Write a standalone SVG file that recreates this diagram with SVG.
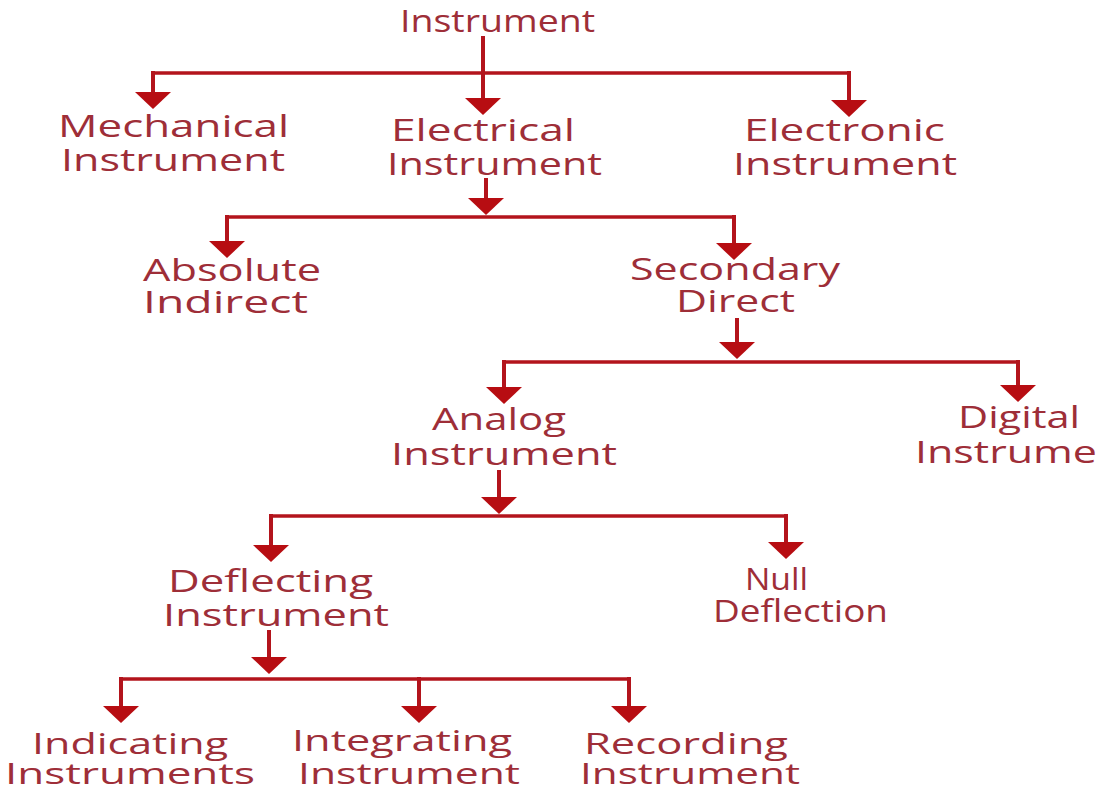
<svg xmlns="http://www.w3.org/2000/svg" xmlns:xlink="http://www.w3.org/1999/xlink" width="1097" height="788" viewBox="0 0 1097 788">
<style>
.t{font-family:"Open Sans","Liberation Sans",sans-serif;font-size:31px;fill:#9e2e38}
.b{font-size:29px}
.ln{stroke:#b3141c;stroke-width:4;fill:none}
.hz{stroke:#b3141c;stroke-width:3.5;fill:none}
.ah{fill:#b70d12}
</style>
<defs>
<path id="ah" class="ah" d="M-18,0 L18,0 L0,17 Z"/>
</defs>
<rect width="1097" height="788" fill="#ffffff"/>
<g id="connectors">
<path class="ln" d="M483,36 V100"/>
<path class="hz" d="M153,73 H849"/>
<path class="ln" d="M153,71 V93 M849,71 V101"/>
<use xlink:href="#ah" x="483" y="98"/>
<use xlink:href="#ah" x="153" y="92"/>
<use xlink:href="#ah" x="849" y="100"/>

<path class="ln" d="M486,178 V200"/>
<path class="hz" d="M227,217 H734"/>
<path class="ln" d="M227,215 V242 M734,215 V244"/>
<use xlink:href="#ah" x="486" y="198"/>
<use xlink:href="#ah" x="227" y="241"/>
<use xlink:href="#ah" x="734" y="243"/>

<path class="ln" d="M737,318 V343"/>
<path class="hz" d="M504,362 H1018"/>
<path class="ln" d="M504,360 V388 M1018,360 V386"/>
<use xlink:href="#ah" x="737" y="342"/>
<use xlink:href="#ah" x="504" y="387"/>
<use xlink:href="#ah" x="1018" y="385"/>

<path class="ln" d="M499,470 V498"/>
<path class="hz" d="M271,516 H786"/>
<path class="ln" d="M271,514 V546 M786,514 V543"/>
<use xlink:href="#ah" x="499" y="497"/>
<use xlink:href="#ah" x="271" y="545"/>
<use xlink:href="#ah" x="786" y="542"/>

<path class="ln" d="M269,630 V658"/>
<path class="hz" d="M121,679 H629"/>
<path class="ln" d="M121,677 V707 M419,677 V707 M629,677 V707"/>
<use xlink:href="#ah" x="269" y="657"/>
<use xlink:href="#ah" x="121" y="706"/>
<use xlink:href="#ah" x="419" y="706"/>
<use xlink:href="#ah" x="629" y="706"/>
</g>
<g id="n-instrument"><text class="t" x="400" y="32" textLength="195" lengthAdjust="spacingAndGlyphs">Instrument</text></g>
<g id="n-mechanical"><text class="t" x="58" y="137" textLength="231" lengthAdjust="spacingAndGlyphs">Mechanical</text><text class="t" x="61" y="171" textLength="224" lengthAdjust="spacingAndGlyphs">Instrument</text></g>
<g id="n-electrical"><text class="t" x="391" y="141" textLength="184" lengthAdjust="spacingAndGlyphs">Electrical</text><text class="t" x="387" y="175" textLength="215" lengthAdjust="spacingAndGlyphs">Instrument</text></g>
<g id="n-electronic"><text class="t" x="744" y="141" textLength="201" lengthAdjust="spacingAndGlyphs">Electronic</text><text class="t" x="733" y="175" textLength="224" lengthAdjust="spacingAndGlyphs">Instrument</text></g>
<g id="n-absolute"><text class="t" x="143" y="281" textLength="178" lengthAdjust="spacingAndGlyphs">Absolute</text><text class="t" x="143" y="313" textLength="165" lengthAdjust="spacingAndGlyphs">Indirect</text></g>
<g id="n-secondary"><text class="t" x="630" y="280" textLength="210" lengthAdjust="spacingAndGlyphs">Secondary</text><text class="t" x="676" y="312" textLength="119" lengthAdjust="spacingAndGlyphs">Direct</text></g>
<g id="n-analog"><text class="t" x="432" y="430" textLength="134" lengthAdjust="spacingAndGlyphs">Analog</text><text class="t" x="391" y="465" textLength="226" lengthAdjust="spacingAndGlyphs">Instrument</text></g>
<g id="n-digital"><text class="t" x="958" y="428" textLength="122" lengthAdjust="spacingAndGlyphs">Digital</text><text class="t" x="915" y="463" textLength="182" lengthAdjust="spacingAndGlyphs">Instrume</text></g>
<g id="n-deflecting"><text class="t" x="168" y="592" textLength="205" lengthAdjust="spacingAndGlyphs">Deflecting</text><text class="t" x="163" y="626" textLength="226" lengthAdjust="spacingAndGlyphs">Instrument</text></g>
<g id="n-null"><text class="t" x="745" y="590" textLength="63" lengthAdjust="spacingAndGlyphs">Null</text><text class="t" x="713" y="622" textLength="175" lengthAdjust="spacingAndGlyphs">Deflection</text></g>
<g id="n-indicating"><text class="t b" x="32" y="754" textLength="196" lengthAdjust="spacingAndGlyphs">Indicating</text><text class="t b" x="5" y="784" textLength="250" lengthAdjust="spacingAndGlyphs">Instruments</text></g>
<g id="n-integrating"><text class="t b" x="292" y="751" textLength="220" lengthAdjust="spacingAndGlyphs">Integrating</text><text class="t b" x="298" y="784" textLength="222" lengthAdjust="spacingAndGlyphs">Instrument</text></g>
<g id="n-recording"><text class="t b" x="584" y="754" textLength="204" lengthAdjust="spacingAndGlyphs">Recording</text><text class="t b" x="580" y="784" textLength="220" lengthAdjust="spacingAndGlyphs">Instrument</text></g>
</svg>
